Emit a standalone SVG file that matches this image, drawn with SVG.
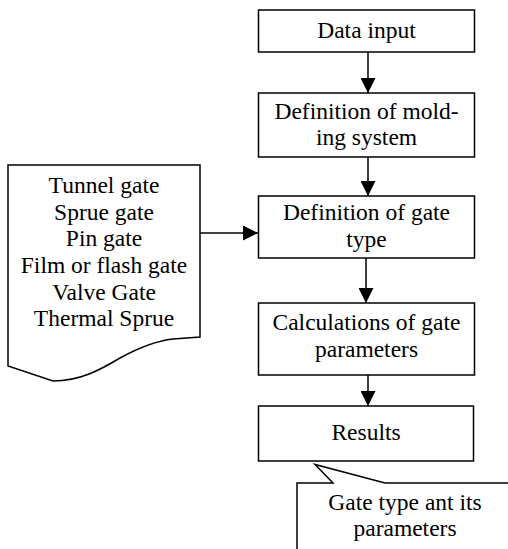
<svg xmlns="http://www.w3.org/2000/svg" width="508" height="549" viewBox="0 0 508 549">
<style>
.box{fill:#fff;stroke:#000;stroke-width:1.5}
.t{font-family:"Liberation Serif","Times New Roman",serif;font-size:23.5px;fill:#000;text-anchor:middle}
.c{fill:none;stroke:#000;stroke-width:1.5}
</style>
<defs>
<marker id="ah" markerUnits="userSpaceOnUse" markerWidth="15" markerHeight="15" refX="15" refY="7.5" orient="auto">
<path d="M0,0 L15,7.5 L0,15 Z" fill="#000"/>
</marker>
</defs>
<rect width="508" height="549" fill="#fff"/>
<g id="connectors">
<line class="c" x1="368" y1="52" x2="368" y2="93" marker-end="url(#ah)"/>
<line class="c" x1="368" y1="157" x2="368" y2="196" marker-end="url(#ah)"/>
<line class="c" x1="366" y1="258" x2="366" y2="303" marker-end="url(#ah)"/>
<line class="c" x1="368" y1="375" x2="368" y2="406" marker-end="url(#ah)"/>
<line class="c" x1="200" y1="233" x2="258" y2="233" marker-end="url(#ah)"/>
</g>
<g id="n_data_input">
<rect class="box" x="258.5" y="10" width="216" height="42"/>
<text class="t" x="366.5" y="38">Data input</text>
</g>
<g id="n_molding">
<rect class="box" x="258.5" y="93" width="216" height="64"/>
<text class="t" x="366.5" y="118.7">Definition of mold-</text>
<text class="t" x="366.5" y="145.3">ing system</text>
</g>
<g id="n_gate_type">
<rect class="box" x="258.5" y="196" width="216" height="62"/>
<text class="t" x="366.5" y="220">Definition of gate</text>
<text class="t" x="366.5" y="246.5">type</text>
</g>
<g id="n_calc">
<rect class="box" x="258.5" y="303" width="216" height="72"/>
<text class="t" x="366.5" y="330">Calculations of gate</text>
<text class="t" x="366.5" y="356.5">parameters</text>
</g>
<g id="n_results">
<rect class="box" x="258.5" y="406" width="215" height="55"/>
<text class="t" x="366" y="440">Results</text>
</g>
<g id="n_gate_list">
<path class="box" d="M8,165 H200 V337 L173,339 C155,341 140,347 120,358 C100,370 80,381 53,381 L8,366 Z"/>
<text class="t" x="104" y="193">Tunnel gate</text>
<text class="t" x="104" y="219.7">Sprue gate</text>
<text class="t" x="104" y="246.3">Pin gate</text>
<text class="t" x="104" y="273">Film or flash gate</text>
<text class="t" x="104" y="299.7">Valve Gate</text>
<text class="t" x="104" y="326.3">Thermal Sprue</text>
</g>
<g id="n_output">
<path class="c" d="M297,549 V483 H333 L315,464.5 L385,483 H508"/>
<text class="t" x="405" y="510">Gate type ant its</text>
<text class="t" x="405" y="535.5">parameters</text>
</g>
</svg>
